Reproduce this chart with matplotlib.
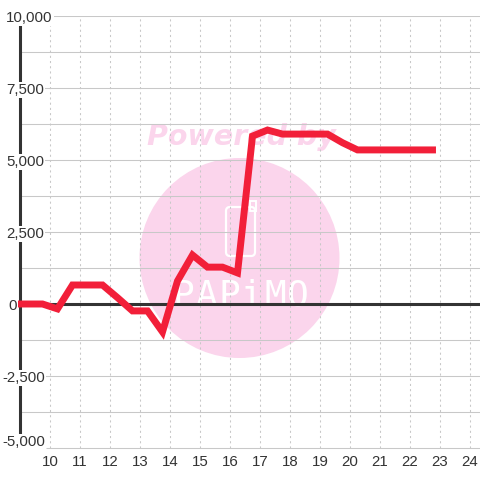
import matplotlib
matplotlib.use('Agg')
from matplotlib import pyplot as plt
from matplotlib.patches import Circle, FancyBboxPatch, Rectangle
from matplotlib.transforms import blended_transform_factory

hours = [9, 9.75, 10.25, 10.75, 11.25, 11.75, 12.25, 12.75, 13.25, 13.75, 14.25, 14.75,
         15.25, 15.75, 16.25, 16.75, 17.25, 17.75, 18.25, 18.75, 19.25, 19.75, 20.25,
         20.75, 21.25, 21.75, 22.25, 22.75]
values = [0, 0, -170, 660, 660, 660, 220, -240, -240, -970, 800, 1700,
          1280, 1280, 1080, 5830, 6040, 5900, 5900, 5900, 5900, 5600, 5350,
          5350, 5350, 5350, 5350, 5350]
x_ticks = list(range(10, 25))
y_major = [10000, 7500, 5000, 2500, 0, -2500]
y_minor = [8750, 6250, 3750, 1250, -1250, -3750]
y_labels = ['10,000', '7,500', '5,000', '2,500', '0', '-2,500', '-5,000']
y_label_values = y_major + [-5000]

plt.rcParams['font.family'] = ['Liberation Sans', 'DejaVu Sans']
text_color = '#333333'
grid_color = '#c8c8c8'
pink = '#fbd5ec'

fig = plt.figure(figsize=(4.8, 4.8), dpi=100)

# watermark sits behind everything, in pixel coords
bg = fig.add_axes([0, 0, 1, 1], zorder=0)
bg.set_xlim(0, 480)
bg.set_ylim(480, 0)
bg.axis('off')
bg.add_patch(Circle((239.5, 258), 100, color=pink, lw=0))
bg.text(241.5, 145, 'Powered by', color=pink, fontsize=20.5, fontweight='bold', style='italic',
        family='DejaVu Sans', ha='center', va='baseline')
bg.add_patch(FancyBboxPatch((226, 207), 29, 49, boxstyle='round,pad=0,rounding_size=4',
                            fc='none', ec='white', lw=1.6))
bg.add_patch(Rectangle((250, 201), 6, 10, fc='none', ec='white', lw=1.4))
for cx, ch in zip([183, 206, 229, 252, 275, 298], 'PAPiMO'):
    bg.text(cx, 306, ch, color='white', fontsize=26, family='DejaVu Sans Mono',
            ha='center', va='baseline')

ax = fig.add_axes([20 / 480, 32 / 480, 460 / 480, 432 / 480], zorder=1)
ax.patch.set_visible(False)
ax.set_xlim(9, 9 + 460 / 30)
ax.set_ylim(-5000, 10000)

for side in ['top', 'right', 'bottom']:
    ax.spines[side].set_visible(False)
ax.spines['left'].set_linewidth(2.2)
ax.spines['left'].set_color(text_color)
ax.spines['left'].set_bounds(-4700, 10000)

ax.set_xticks(x_ticks)
ax.set_yticks([])
ax.tick_params(axis='x', length=0, pad=5, labelsize=10.8, labelcolor=text_color)
for t in x_ticks:
    ax.axvline(t, color=grid_color, lw=0.75, ls=(0, (2, 3)), zorder=1)
for v in y_major + y_minor:
    ax.axhline(v, color=grid_color, lw=0.75, zorder=1)
ax.hlines(-5000, 9.85, ax.get_xlim()[1], color=grid_color, lw=0.75, zorder=1, clip_on=False)
ax.axhline(0, color='#333333', lw=2.2, zorder=3)

ax.plot(hours, values, color='#f21f39', lw=5, zorder=4, solid_capstyle='projecting',
        solid_joinstyle='miter', clip_on=False)

trans = blended_transform_factory(bg.transData, ax.transData)
for v, lab in zip(y_label_values, y_labels):
    left = 2 if lab.startswith('-') else (8 if lab == '0' else 6)
    shift = 4 if v == -5000 else -1.4
    ax.annotate(lab, xy=(left, v), xycoords=trans, xytext=(0, shift), textcoords='offset points',
                fontsize=10.8, color=text_color, ha='left', va='center', zorder=5,
                annotation_clip=False, bbox=dict(fc='white', ec='none', pad=1))

fig.savefig('out.png', dpi=100)
